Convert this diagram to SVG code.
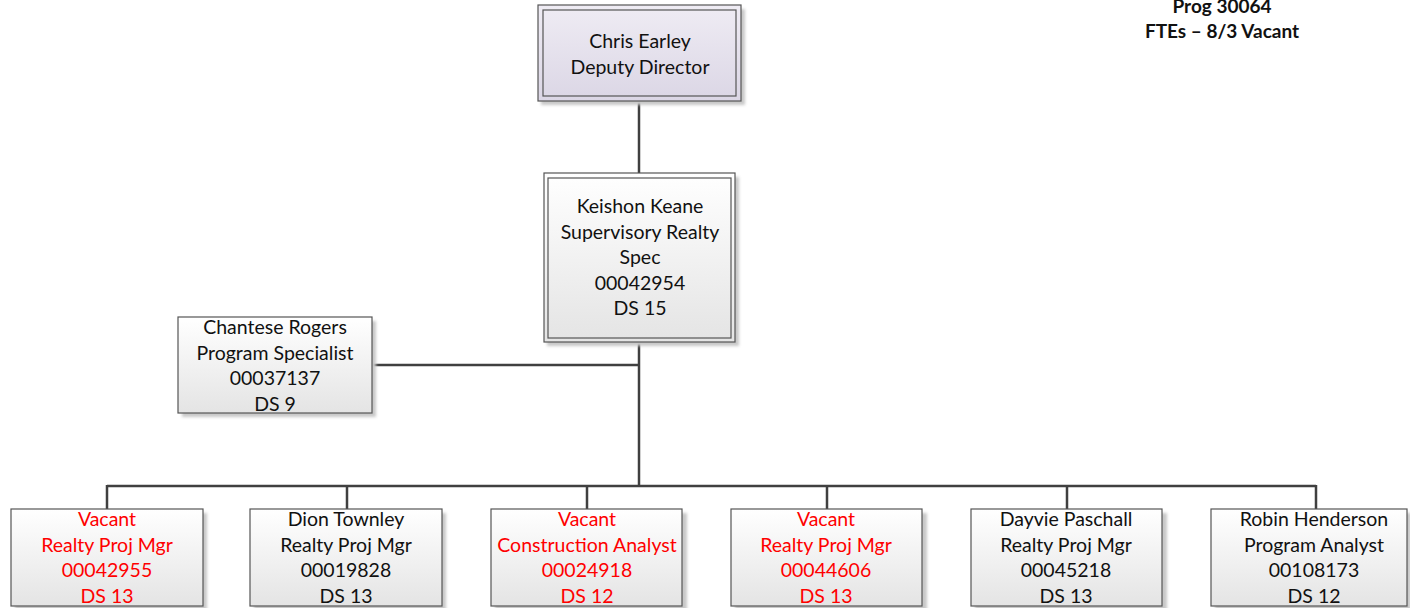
<svg xmlns="http://www.w3.org/2000/svg" width="1410" height="608" viewBox="0 0 1410 608">
  <defs>
    <linearGradient id="gFill" x1="0" y1="0" x2="0" y2="1">
      <stop offset="0" stop-color="#ffffff"/>
      <stop offset="1" stop-color="#e4e4e4"/>
    </linearGradient>
    <linearGradient id="gLav" x1="0" y1="0" x2="0" y2="1">
      <stop offset="0" stop-color="#efecf4"/>
      <stop offset="1" stop-color="#dbd6e5"/>
    </linearGradient>
    <filter id="shadow" x="-10%" y="-10%" width="130%" height="130%">
      <feGaussianBlur stdDeviation="1.5"/>
    </filter>
  </defs>
  <style>
    .sh { fill: #c8c8c8; filter: url(#shadow); }
    .box { fill: url(#gFill); stroke: #555555; stroke-width: 1.2; }
    .inner { fill: none; stroke: #555555; stroke-width: 1.2; }
    .lav { fill: url(#gLav); stroke: #555555; stroke-width: 1.2; }
    .t { font-family: Lato, "Open Sans", "Liberation Sans", sans-serif; font-size: 19.5px; fill: #111111; text-anchor: middle; }
    .red { fill: #ff0000; }
    .hd { font-family: Lato, "Open Sans", "Liberation Sans", sans-serif; font-size: 19px; font-weight: bold; fill: #111111; text-anchor: middle; }
    .conn { stroke: #404040; stroke-width: 2.5; fill: none; }
  </style>
  <rect width="1410" height="608" fill="#ffffff"/>

  <g id="header">
    <text class="hd" x="1222" y="13">Prog 30064</text>
    <text class="hd" x="1222" y="38">FTEs – 8/3 Vacant</text>
  </g>

  <g id="connectors">
    <path class="conn" d="M639 101 V173"/>
    <path class="conn" d="M639 342 V486"/>
    <path class="conn" d="M372 365 H639"/>
    <path class="conn" d="M107 486 H1316"/>
    <path class="conn" d="M107 485 V509 M347 485 V509 M587 485 V509 M827 485 V509 M1067 485 V509 M1316 485 V509"/>
  </g>

  <g id="chris-earley">
    <rect class="sh" x="541" y="9" width="204" height="96"/>
    <rect class="lav" x="538" y="5" width="203" height="96"/>
    <rect class="inner" x="543" y="10" width="193" height="86"/>
    <text class="t" x="640" y="48">Chris Earley</text>
    <text class="t" x="640" y="74">Deputy Director</text>
  </g>

  <g id="keishon-keane">
    <rect class="sh" x="547" y="177" width="192" height="169"/>
    <rect class="box" x="544" y="173" width="191" height="169"/>
    <rect class="inner" x="548" y="178" width="183" height="160"/>
    <text class="t" x="640" y="213">Keishon Keane</text>
    <text class="t" x="640" y="239">Supervisory Realty</text>
    <text class="t" x="640" y="264">Spec</text>
    <text class="t" x="640" y="290">00042954</text>
    <text class="t" x="640" y="315">DS 15</text>
  </g>

  <g id="chantese-rogers">
    <rect class="sh" x="182" y="321" width="194" height="96"/>
    <rect class="box" x="178" y="317" width="194" height="96"/>
    <text class="t" x="275" y="334">Chantese Rogers</text>
    <text class="t" x="275" y="360">Program Specialist</text>
    <text class="t" x="275" y="385">00037137</text>
    <text class="t" x="275" y="411">DS 9</text>
  </g>

  <g id="vacant-00042955">
    <rect class="sh" x="15" y="513" width="192" height="98"/>
    <rect class="box" x="11" y="509" width="192" height="97"/>
    <text class="t red" x="107" y="526">Vacant</text>
    <text class="t red" x="107" y="552">Realty Proj Mgr</text>
    <text class="t red" x="107" y="577">00042955</text>
    <text class="t red" x="107" y="603">DS 13</text>
  </g>

  <g id="dion-townley">
    <rect class="sh" x="254" y="513" width="192" height="98"/>
    <rect class="box" x="250" y="509" width="192" height="97"/>
    <text class="t" x="346" y="526">Dion Townley</text>
    <text class="t" x="346" y="552">Realty Proj Mgr</text>
    <text class="t" x="346" y="577">00019828</text>
    <text class="t" x="346" y="603">DS 13</text>
  </g>

  <g id="vacant-00024918">
    <rect class="sh" x="495" y="513" width="192" height="98"/>
    <rect class="box" x="491" y="509" width="191" height="97"/>
    <text class="t red" x="587" y="526">Vacant</text>
    <text class="t red" x="587" y="552">Construction Analyst</text>
    <text class="t red" x="587" y="577">00024918</text>
    <text class="t red" x="587" y="603">DS 12</text>
  </g>

  <g id="vacant-00044606">
    <rect class="sh" x="735" y="513" width="192" height="98"/>
    <rect class="box" x="731" y="509" width="191" height="97"/>
    <text class="t red" x="826" y="526">Vacant</text>
    <text class="t red" x="826" y="552">Realty Proj Mgr</text>
    <text class="t red" x="826" y="577">00044606</text>
    <text class="t red" x="826" y="603">DS 13</text>
  </g>

  <g id="dayvie-paschall">
    <rect class="sh" x="975" y="513" width="192" height="98"/>
    <rect class="box" x="971" y="509" width="191" height="97"/>
    <text class="t" x="1066" y="526">Dayvie Paschall</text>
    <text class="t" x="1066" y="552">Realty Proj Mgr</text>
    <text class="t" x="1066" y="577">00045218</text>
    <text class="t" x="1066" y="603">DS 13</text>
  </g>

  <g id="robin-henderson">
    <rect class="sh" x="1215" y="513" width="196" height="98"/>
    <rect class="box" x="1211" y="509" width="196" height="97"/>
    <text class="t" x="1314" y="526">Robin Henderson</text>
    <text class="t" x="1314" y="552">Program Analyst</text>
    <text class="t" x="1314" y="577">00108173</text>
    <text class="t" x="1314" y="603">DS 12</text>
  </g>
</svg>
